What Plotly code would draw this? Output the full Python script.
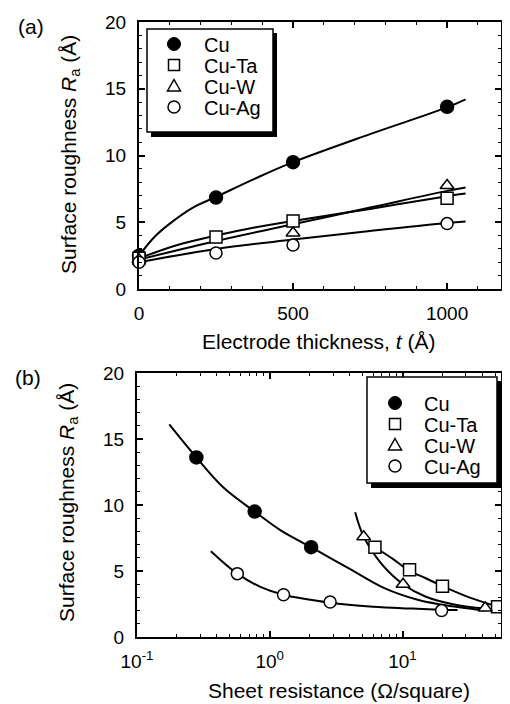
import plotly.graph_objects as go

# ---------------- Data: panel (a) ----------------
series = ["Cu", "Cu-Ta", "Cu-W", "Cu-Ag"]

cu_t = [0, 250, 500, 1000]
cu_ra = [2.5, 6.85, 9.5, 13.65]
ta_t = [0, 250, 500, 1000]
ta_ra = [2.3, 3.9, 5.1, 6.8]
w_t = [0, 500, 1000]
w_ra = [2.2, 4.2, 7.75]
ag_t = [0, 250, 500, 1000]
ag_ra = [2.0, 2.7, 3.3, 4.9]

# fitted curves
cu_fit_t = [0, 50, 100, 175, 250, 375, 500, 750, 1000, 1060]
cu_fit_ra = [2.5, 3.9, 4.9, 6.1, 6.9, 8.25, 9.5, 11.6, 13.6, 14.2]
ta_fit_t = [0, 125, 250, 375, 500, 750, 1000, 1060]
ta_fit_ra = [2.3, 3.3, 4.0, 4.6, 5.1, 6.0, 6.95, 7.15]
w_fit_t = [0, 250, 500, 750, 1000, 1060]
w_fit_ra = [2.2, 3.6, 4.85, 6.1, 7.35, 7.6]
ag_fit_t = [0, 250, 500, 750, 1000, 1060]
ag_fit_ra = [2.0, 3.0, 3.7, 4.35, 4.95, 5.05]

# ---------------- Data: panel (b) ----------------
cu_rs = [0.28, 0.77, 2.05]
cu_ra_b = [13.6, 9.5, 6.8]
ta_rs = [6.2, 11.3, 20, 52]
ta_ra_b = [6.8, 5.1, 3.85, 2.3]
w_rs = [5.1, 10.1, 42]
w_ra_b = [7.6, 4.0, 2.2]
ag_rs = [0.57, 1.27, 2.85, 19.7]
ag_ra_b = [4.8, 3.2, 2.65, 2.0]

cu_fit_rs = [0.175, 0.28, 0.45, 0.77, 1.2, 2.05, 4.1, 7.3, 13.2, 20, 42]
cu_fit_rb = [16.1, 13.6, 11.3, 9.5, 8.1, 6.8, 5.1, 3.7, 2.8, 2.45, 2.0]
ta_fit_rs = [6.2, 8.5, 11.3, 15, 20, 30, 52]
ta_fit_rb = [6.8, 5.9, 5.0, 4.45, 3.85, 3.1, 2.3]
w_fit_rs = [4.4, 5.1, 7, 10.1, 15, 25, 42]
w_fit_rb = [9.45, 7.6, 5.5, 4.0, 3.05, 2.45, 2.15]
ag_fit_rs = [0.36, 0.57, 0.85, 1.27, 2.85, 6, 12, 19.7, 26]
ag_fit_rb = [6.5, 4.8, 3.8, 3.2, 2.6, 2.3, 2.15, 2.05, 2.05]

x_ticks_a = [0, 500, 1000]
x_ticks_b = [0.1, 1, 10]
x_ticktext_b = ["10<sup>-1</sup>", "10<sup>0</sup>", "10<sup>1</sup>"]
y_ticks = [0, 5, 10, 15, 20]

FONT = "Arial, Liberation Sans, sans-serif"
OFF = 8                      # default page margin of the HTML body
W, H = 510 - OFF, 704 - OFF  # figure fits the window after the page offset

marker_sym = {"Cu": "circle", "Cu-Ta": "square", "Cu-W": "triangle-up", "Cu-Ag": "circle"}
fills = {"Cu": "black", "Cu-Ta": "white", "Cu-W": "white", "Cu-Ag": "white"}
msize = {"Cu": 13, "Cu-Ta": 12, "Cu-W": 12, "Cu-Ag": 12}

fig = go.Figure()


def add_panel(fits, pts, xa, ya):
    for (fx, fy) in fits:
        fig.add_trace(go.Scatter(x=fx, y=fy, mode="lines", line=dict(color="black", width=2, shape="spline"),
                                 showlegend=False, hoverinfo="skip", xaxis=xa, yaxis=ya, cliponaxis=False))
    for name, (xs, ys) in zip(series, pts):
        fig.add_trace(go.Scatter(x=xs, y=ys, mode="markers", name=name, showlegend=False,
                                 marker=dict(symbol=marker_sym[name], size=msize[name], color=fills[name],
                                             line=dict(color="black", width=1.5)),
                                 xaxis=xa, yaxis=ya, cliponaxis=False))


add_panel([(cu_fit_t, cu_fit_ra), (ta_fit_t, ta_fit_ra), (w_fit_t, w_fit_ra), (ag_fit_t, ag_fit_ra)],
          [(cu_t, cu_ra), (ta_t, ta_ra), (w_t, w_ra), (ag_t, ag_ra)], "x", "y")
add_panel([(cu_fit_rs, cu_fit_rb), (ta_fit_rs, ta_fit_rb), (w_fit_rs, w_fit_rb), (ag_fit_rs, ag_fit_rb)],
          [(cu_rs, cu_ra_b), (ta_rs, ta_ra_b), (w_rs, w_ra_b), (ag_rs, ag_ra_b)], "x2", "y2")


def px(x):
    return (x - OFF) / W


def py(y):
    return 1 - (y - OFF) / H


common_axis = dict(showgrid=False, zeroline=False, showline=True, linecolor="black", linewidth=2,
                   mirror="allticks", ticks="inside", ticklen=6, tickwidth=1.5, tickcolor="black",
                   tickfont=dict(family=FONT, size=19, color="black"))

minor_y = dict(ticks="inside", ticklen=3, tickwidth=1.2, tickcolor="black", dtick=1, showgrid=False)
minor_log = [k * 10 ** e for e in (-1, 0, 1) for k in range(2, 10) if k * 10 ** e < 56]

fig.update_layout(
    width=W, height=H, paper_bgcolor="white", plot_bgcolor="white",
    margin=dict(l=0, r=0, t=0, b=0, autoexpand=False),
    font=dict(family=FONT, color="black"),
    showlegend=False,
    xaxis=dict(domain=[px(139), px(501)], range=[0, 1175], tickvals=x_ticks_a, anchor="y",
               ticklabelstandoff=6,
               minor=dict(ticks="inside", ticklen=3, tickwidth=1.2, tickcolor="black", dtick=100, showgrid=False),
               **common_axis),
    yaxis=dict(domain=[py(289), py(22)], range=[0, 20], tickvals=y_ticks, anchor="x",
               ticklabelstandoff=7, minor=minor_y, **common_axis),
    xaxis2=dict(domain=[px(137), px(501)], type="log", range=[-1, 1.742], tickvals=x_ticks_b,
                ticktext=x_ticktext_b, anchor="y2", ticklabelstandoff=6,
                minor=dict(ticks="inside", ticklen=3, tickwidth=1.2, tickcolor="black",
                           tickvals=minor_log, showgrid=False),
                **common_axis),
    yaxis2=dict(domain=[py(637), py(373)], range=[0, 20], tickvals=y_ticks, anchor="x2",
                ticklabelstandoff=7, minor=minor_y, **common_axis),
)

# ---------------- hand-drawn legends (box + drop shadow + keys) ----------------
legend_boxes = [
    dict(box=(147, 29, 273, 132), mx=174, tx=202, rows=[44, 65, 86, 107]),
    dict(box=(367, 377, 497, 483), mx=395, tx=422, rows=[403, 424, 445, 466]),
]

shapes = []
ann = []
for lg in legend_boxes:
    x0, y0, x1, y1 = lg["box"]
    shapes.append(dict(type="rect", x0=px(x0 + 4), x1=px(x1 + 4), y0=py(y1 + 5), y1=py(y0 + 4),
                       fillcolor="black", line=dict(width=0)))
    shapes.append(dict(type="rect", x0=px(x0), x1=px(x1), y0=py(y1), y1=py(y0),
                       fillcolor="white", line=dict(color="black", width=1.5)))
    mx = lg["mx"]
    for name, ry in zip(series, lg["rows"]):
        if name == "Cu":
            shapes.append(dict(type="circle", x0=px(mx - 6.5), x1=px(mx + 6.5), y0=py(ry + 6.5), y1=py(ry - 6.5),
                               fillcolor="black", line=dict(color="black", width=1)))
        elif name == "Cu-Ta":
            shapes.append(dict(type="rect", x0=px(mx - 5.5), x1=px(mx + 5.5), y0=py(ry + 5.5), y1=py(ry - 5.5),
                               fillcolor="white", line=dict(color="black", width=1.5)))
        elif name == "Cu-W":
            path = "M {:.5f} {:.5f} L {:.5f} {:.5f} L {:.5f} {:.5f} Z".format(
                px(mx), py(ry - 6.5), px(mx + 6.5), py(ry + 5), px(mx - 6.5), py(ry + 5))
            shapes.append(dict(type="path", path=path, fillcolor="white", line=dict(color="black", width=1.5)))
        else:
            shapes.append(dict(type="circle", x0=px(mx - 6), x1=px(mx + 6), y0=py(ry + 6), y1=py(ry - 6),
                               fillcolor="white", line=dict(color="black", width=1.5)))
        ann.append(dict(text=name, x=px(lg["tx"]), y=py(ry + 1), xanchor="left", yanchor="middle",
                        font=dict(size=20)))

for s in shapes:
    s.update(xref="paper", yref="paper", layer="above")

ytitle = "Surface roughness <i>R</i><sub>a</sub> (Å)"
ann.append(dict(text=ytitle, x=px(70), y=py(155), textangle=-90, font=dict(size=21)))
ann.append(dict(text=ytitle, x=px(68), y=py(503), textangle=-90, font=dict(size=21)))
ann.append(dict(text="Electrode thickness, <i>t</i> (Å)", x=px(318), y=py(341), font=dict(size=21)))
ann.append(dict(text="Sheet resistance (Ω/square)", x=px(339), y=py(690), font=dict(size=21)))
ann.append(dict(text="(a)", x=px(31), y=py(27), font=dict(size=21)))
ann.append(dict(text="(b)", x=px(28), y=py(377), font=dict(size=21)))
for a in ann:
    a.setdefault("xanchor", "center")
    a.setdefault("yanchor", "middle")
    a.update(xref="paper", yref="paper", showarrow=False)
    a["font"].update(family=FONT, color="black")

fig.update_layout(shapes=shapes, annotations=ann)

fig.write_html("out.html")
